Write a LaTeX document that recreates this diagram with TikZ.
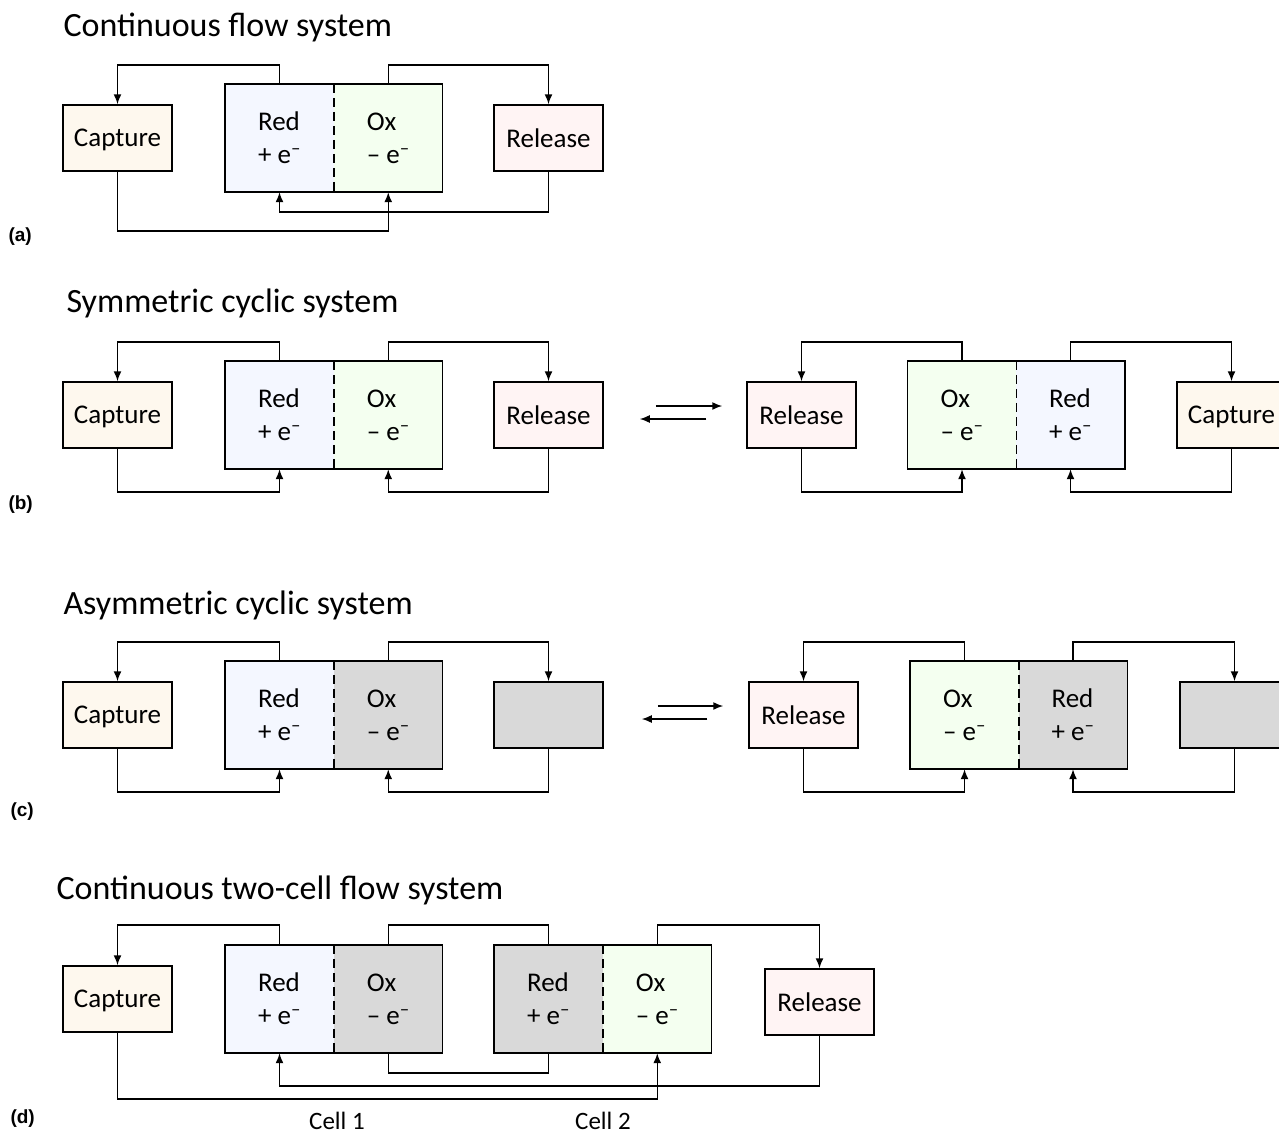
\documentclass[tikz,border=0pt]{standalone}
\usepackage{fontspec}
\setmainfont{Carlito}
\newfontfamily\panelfont{Liberation Sans}
\usetikzlibrary{arrows.meta}
\definecolor{capfill}{RGB}{254,248,238}
\definecolor{relfill}{RGB}{255,244,244}
\definecolor{redfill}{RGB}{244,247,255}
\definecolor{oxfill}{RGB}{244,255,240}
\definecolor{offfill}{RGB}{217,217,217}

\tikzset{
  unit/.style={draw, line width=1.5pt, minimum width=109pt, minimum height=66pt, inner sep=0pt, text depth=0pt, font=\fontsize{27}{32}\selectfont},
  half/.style={minimum width=108.5pt, minimum height=108pt, inner sep=0pt, align=left, font=\fontsize{27}{33}\selectfont},
  pipe/.style={line width=1.5pt},
  feed/.style={line width=1.5pt, -{Latex[length=10pt,width=8pt]}},
  title/.style={anchor=west, font=\fontsize{34}{40}\selectfont},
  panel/.style={anchor=west, font=\panelfont\bfseries\fontsize{19}{22}\selectfont},
}

\begin{document}
\begin{tikzpicture}[x=1pt, y=-1pt]
\useasboundingbox[fill=white] (0,0) rectangle (1279,1135);
\clip (0,0) rectangle (1279,1135);

% (a) continuous flow
\node[title] (ta) at (60,27) {Continuous flow system};
\node[panel] (la) at (5,237) {(a)};
\node[unit, fill=capfill] (capA) at (117.5,138) {Capture};
\node[half, fill=redfill] (redA) at (279.5,138) {Red\\+ e\textsuperscript{–}};
\node[half, fill=oxfill] (oxA) at (388.25,138) {Ox\\– e\textsuperscript{–}};
\node[unit, fill=relfill] (relA) at (548.5,138) {Release};
\draw[pipe] (redA.north west) rectangle (oxA.south east);
\draw[pipe, dash pattern=on 9pt off 5pt] (redA.north east) -- (redA.south east);
\draw[feed] (redA.north) -- ++(0,-19) -| (capA.north);
\draw[feed] (oxA.north) -- ++(0,-19) -| (relA.north);
\draw[feed] (capA.south) -- ++(0,59) -| (oxA.south);
\draw[feed] (relA.south) -- ++(0,40) -| (redA.south);

% (b) symmetric cyclic
\node[title] (tb) at (63,303) {Symmetric cyclic system};
\node[panel] (lb) at (5,505) {(b)};
\node[unit, fill=capfill] (capB) at (117.5,415) {Capture};
\node[half, fill=redfill] (redB) at (279.5,415) {Red\\+ e\textsuperscript{–}};
\node[half, fill=oxfill] (oxB) at (388.25,415) {Ox\\– e\textsuperscript{–}};
\node[unit, fill=relfill] (relB) at (548.5,415) {Release};
\draw[pipe] (redB.north west) rectangle (oxB.south east);
\draw[pipe, dash pattern=on 9pt off 5pt] (redB.north east) -- (redB.south east);
\draw[feed] (redB.north) -- ++(0,-19) -| (capB.north);
\draw[feed] (oxB.north) -- ++(0,-19) -| (relB.north);
\draw[feed] (capB.south) -- ++(0,43) -| (redB.south);
\draw[feed] (relB.south) -- ++(0,43) -| (oxB.south);

\node[unit, fill=relfill] (relB2) at (801.5,415) {Release};
\node[half, fill=oxfill] (oxB2) at (962,415) {Ox\\– e\textsuperscript{–}};
\node[half, fill=redfill] (redB2) at (1070.5,415) {Red\\+ e\textsuperscript{–}};
\node[unit, fill=capfill] (capB2) at (1231.5,415) {Capture};
\draw[pipe] (oxB2.north west) rectangle (redB2.south east);
\draw[pipe, dash pattern=on 9pt off 5pt] (oxB2.north east) -- (oxB2.south east);
\draw[feed] (oxB2.north) -- ++(0,-19) -| (relB2.north);
\draw[feed] (redB2.north) -- ++(0,-19) -| (capB2.north);
\draw[feed] (relB2.south) -- ++(0,43) -| (oxB2.south);
\draw[feed] (capB2.south) -- ++(0,43) -| (redB2.south);

% equilibrium b
\draw[feed] ([shift={(52pt,9pt)}]relB.east) -- ([shift={(-24pt,9pt)}]relB2.west);
\draw[feed] ([shift={(-40pt,-4pt)}]relB2.west) -- ([shift={(36pt,-4pt)}]relB.east);

% (c) asymmetric cyclic
\node[title] (tc) at (60,605) {Asymmetric cyclic system};
\node[panel] (lc) at (7,812) {(c)};
\node[unit, fill=capfill] (capC) at (117.5,715) {Capture};
\node[half, fill=redfill] (redC) at (279.5,715) {Red\\+ e\textsuperscript{–}};
\node[half, fill=offfill] (oxC) at (388.25,715) {Ox\\– e\textsuperscript{–}};
\node[unit, fill=offfill] (relC) at (548.5,715) {};
\draw[pipe] (redC.north west) rectangle (oxC.south east);
\draw[pipe, dash pattern=on 9pt off 5pt] (redC.north east) -- (redC.south east);
\draw[feed] (redC.north) -- ++(0,-19) -| (capC.north);
\draw[feed] (oxC.north) -- ++(0,-19) -| (relC.north);
\draw[feed] (capC.south) -- ++(0,43) -| (redC.south);
\draw[feed] (relC.south) -- ++(0,43) -| (oxC.south);

\node[unit, fill=relfill] (relC2) at (803.5,715) {Release};
\node[half, fill=oxfill] (oxC2) at (964.5,715) {Ox\\– e\textsuperscript{–}};
\node[half, fill=offfill] (redC2) at (1073,715) {Red\\+ e\textsuperscript{–}};
\node[unit, fill=offfill] (capC2) at (1234.5,715) {};
\draw[pipe] (oxC2.north west) rectangle (redC2.south east);
\draw[pipe, dash pattern=on 9pt off 5pt] (oxC2.north east) -- (oxC2.south east);
\draw[feed] (oxC2.north) -- ++(0,-19) -| (relC2.north);
\draw[feed] (redC2.north) -- ++(0,-19) -| (capC2.north);
\draw[feed] (relC2.south) -- ++(0,43) -| (oxC2.south);
\draw[feed] (capC2.south) -- ++(0,43) -| (redC2.south);

% equilibrium c
\draw[feed] ([shift={(54pt,9pt)}]relC.east) -- ([shift={(-25pt,9pt)}]relC2.west);
\draw[feed] ([shift={(-41pt,-4pt)}]relC2.west) -- ([shift={(38pt,-4pt)}]relC.east);

% (d) two-cell flow
\node[title] (td) at (53,890) {Continuous two-cell flow system};
\node[panel] (ld) at (7,1119) {(d)};
\node[unit, fill=capfill] (capD) at (117.5,999) {Capture};
\node[half, fill=redfill] (redD) at (279.5,999) {Red\\+ e\textsuperscript{–}};
\node[half, fill=offfill] (oxD) at (388.25,999) {Ox\\– e\textsuperscript{–}};
\node[half, fill=offfill] (redD2) at (548.5,999) {Red\\+ e\textsuperscript{–}};
\node[half, fill=oxfill] (oxD2) at (657.25,999) {Ox\\– e\textsuperscript{–}};
\node[unit, fill=relfill] (relD) at (819.5,1002) {Release};
\draw[pipe] (redD.north west) rectangle (oxD.south east);
\draw[pipe, dash pattern=on 9pt off 5pt] (redD.north east) -- (redD.south east);
\draw[pipe] (redD2.north west) rectangle (oxD2.south east);
\draw[pipe, dash pattern=on 9pt off 5pt] (redD2.north east) -- (redD2.south east);
\draw[feed] (redD.north) -- ++(0,-20) -| (capD.north);
\draw[pipe] (oxD.north) -- ++(0,-20) -| (redD2.north);
\draw[feed] (oxD2.north) -- ++(0,-20) -| (relD.north);
\draw[pipe] (oxD.south) -- ++(0,20) -| (redD2.south);
\draw[feed] (relD.south) -- ++(0,50) -| (redD.south);
\draw[feed] (capD.south) -- ++(0,66) -| (oxD2.south);
\node[font=\fontsize{25}{28}\selectfont, inner sep=1pt] (c1) at (337,1121) {Cell 1};
\node[font=\fontsize{25}{28}\selectfont, inner sep=1pt] (c2) at (603,1121) {Cell 2};
\end{tikzpicture}
\end{document}
